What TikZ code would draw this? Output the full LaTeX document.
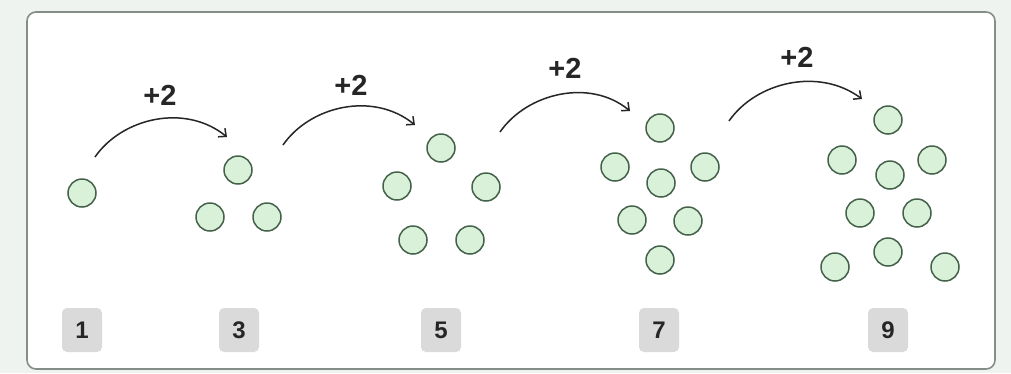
\documentclass[tikz,border=0pt]{standalone}
\usepackage{fontspec}
\setmainfont{Liberation Sans}
\usetikzlibrary{arrows.meta,calc}
\definecolor{outerbg}{HTML}{EEF3F0}
\definecolor{framecol}{HTML}{858D88}
\definecolor{dotfill}{HTML}{D8F1D8}
\definecolor{dotline}{HTML}{44614A}
\definecolor{tagfill}{HTML}{DADADA}
\definecolor{inkcol}{HTML}{262626}
\tikzset{
  dot/.style={circle, draw=dotline, fill=dotfill, line width=1.5pt, minimum size=28pt, inner sep=0pt},
  tag/.style={rounded corners=5pt, fill=tagfill, minimum width=40pt, minimum height=44pt, inner sep=0pt, text=inkcol, font=\fontsize{24}{26}\selectfont\bfseries},
  plus/.style={text=inkcol, font=\fontsize{29}{30}\selectfont\bfseries, inner sep=0pt},
  hop/.style={draw=inkcol, line width=1.5pt, -{Straight Barb[length=6pt,width=11pt,line width=1.5pt]}}
}
\begin{document}
\begin{tikzpicture}[x=1pt,y=-1pt]
\useasboundingbox (0,0) rectangle (1011,373);
\fill[outerbg] (0,0) rectangle (1011,373);
\draw[framecol, line width=1.6pt, fill=white, rounded corners=9pt] (27,12) rectangle (995,369);

% group 1
\node[dot] (a1) at (82,193) {};
% group 3
\node[dot] (b1) at (238,170) {};
\node[dot] (b2) at (210,217) {};
\node[dot] (b3) at (267,217) {};
% group 5
\node[dot] (c1) at (441,148) {};
\node[dot] (c2) at (397,186) {};
\node[dot] (c3) at (486,187) {};
\node[dot] (c4) at (413,240) {};
\node[dot] (c5) at (470,240) {};
% group 7
\node[dot] (d1) at (660,128) {};
\node[dot] (d2) at (615,167) {};
\node[dot] (d3) at (661,183) {};
\node[dot] (d4) at (705,167) {};
\node[dot] (d5) at (632,220) {};
\node[dot] (d6) at (688,221) {};
\node[dot] (d7) at (660,260) {};
% group 9
\node[dot] (e1) at (888,120) {};
\node[dot] (e2) at (842,160) {};
\node[dot] (e3) at (890,175) {};
\node[dot] (e4) at (932,160) {};
\node[dot] (e5) at (860,213) {};
\node[dot] (e6) at (917,213) {};
\node[dot] (e7) at (888,252) {};
\node[dot] (e8) at (835,267) {};
\node[dot] (e9) at (945,267) {};

% count tags
\node[tag] (t1) at (82,330) {1};
\node[tag] (t3) at (239,330) {3};
\node[tag] (t5) at (441,330) {5};
\node[tag] (t7) at (659,330) {7};
\node[tag] (t9) at (888,330) {9};

% arrows
\coordinate (s1) at (95,157);  \coordinate (f1) at (227,137);
\coordinate (s2) at (283,145); \coordinate (f2) at (415,125);
\coordinate (s3) at (500,132); \coordinate (f3) at (630,111);
\coordinate (s4) at (729,121); \coordinate (f4) at (862,99);
\draw[hop] (s1) .. controls ($(s1)+(27,-39)$) and ($(s1)+(90,-54)$) .. (f1);
\draw[hop] (s2) .. controls ($(s2)+(27,-39)$) and ($(s2)+(90,-54)$) .. (f2);
\draw[hop] (s3) .. controls ($(s3)+(27,-39)$) and ($(s3)+(90,-54)$) .. (f3);
\draw[hop] (s4) .. controls ($(s4)+(27,-39)$) and ($(s4)+(90,-54)$) .. (f4);

\node[plus] (p1) at (160,95) {+2};
\node[plus] (p2) at (351,85) {+2};
\node[plus] (p3) at (565,68) {+2};
\node[plus] (p4) at (797,57) {+2};
\end{tikzpicture}
\end{document}
